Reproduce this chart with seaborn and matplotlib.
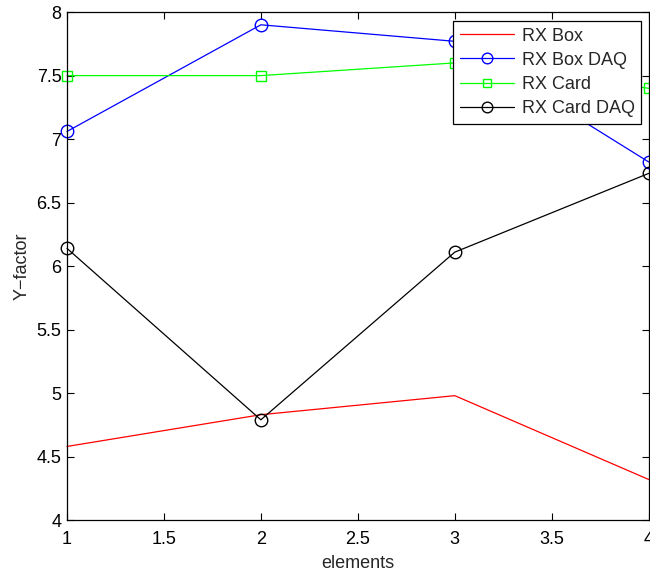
import matplotlib
matplotlib.use('Agg')
import matplotlib.pyplot as plt
import numpy as np
import pandas as pd
import seaborn as sns

# Data
elements = [1, 2, 3, 4]
rx_box = [4.58, 4.83, 4.98, 4.32]
rx_box_daq = [7.06, 7.90, 7.77, 6.82]
rx_card = [7.50, 7.50, 7.60, 7.40]
rx_card_daq = [6.14, 4.79, 6.11, 6.73]

series = {
    'RX Box': rx_box,
    'RX Box DAQ': rx_box_daq,
    'RX Card': rx_card,
    'RX Card DAQ': rx_card_daq,
}
styles = {
    'RX Box': dict(color='#ff0000', marker=None),
    'RX Box DAQ': dict(color='#0000ff', marker='o', ms=9),
    'RX Card': dict(color='#00ff00', marker='s', ms=7),
    'RX Card DAQ': dict(color='#000000', marker='o', ms=9),
}

sns.set_style('white')
plt.rcParams['font.family'] = ['Liberation Sans', 'DejaVu Sans']
plt.rcParams['font.size'] = 13

fig = plt.figure(figsize=(6.5, 5.76), dpi=100)
ax = fig.add_axes([0.103, 0.097, 0.895, 0.882])

for name, vals in series.items():
    df = pd.DataFrame({'elements': elements, 'value': vals})
    st = styles[name]
    kw = dict(marker=st['marker'], mfc='none', mec=st['color'], mew=1.0)
    if st['marker'] is not None:
        kw['ms'] = st['ms']
    sns.lineplot(data=df, x='elements', y='value', color=st['color'],
                 lw=0.9, label=name, ax=ax, clip_on=False, **kw)

ax.set_xlim(1, 4)
ax.set_ylim(4, 8)
ax.set_xticks(np.arange(1, 4.01, 0.5))
ax.set_xticklabels(['1', '1.5', '2', '2.5', '3', '3.5', '4'])
ax.set_yticks(np.arange(4, 8.01, 0.5))
ax.set_yticklabels(['4', '4.5', '5', '5.5', '6', '6.5', '7', '7.5', '8'])
ax.set_xlabel('elements')
ax.set_ylabel('Y\u2212factor')
ax.xaxis.set_label_coords(0.5, -0.068)
ax.yaxis.set_label_coords(-0.062, 0.5)

ax.tick_params(direction='in', length=5, width=0.8, top=True, right=True,
               bottom=True, left=True, colors='black')
ax.tick_params(axis='x', pad=8)
ax.tick_params(axis='y', pad=4)
for side in ax.spines.values():
    side.set_visible(True)
    side.set_color('black')
    side.set_linewidth(0.9)

leg = ax.legend(loc='upper right', bbox_to_anchor=(0.987, 0.982),
                frameon=True, fancybox=False, edgecolor='black',
                framealpha=1, handlelength=3.0, borderpad=0.35,
                labelspacing=0.4, handletextpad=0.45, borderaxespad=0,
                markerscale=0.85)
leg.get_frame().set_linewidth(0.9)

fig.savefig('out.png', dpi=100)
